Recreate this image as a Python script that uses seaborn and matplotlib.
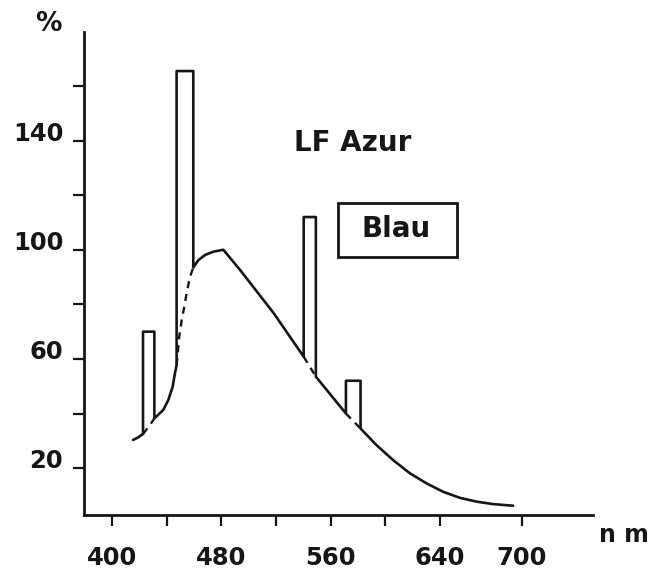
import matplotlib
matplotlib.use("Agg")
import matplotlib.pyplot as plt
from matplotlib.patches import Rectangle
import numpy as np
import seaborn as sns

# continuous spectrum (LF Azur), incl. the part hidden under the Hg lines
cont_nm = [415.4, 419.0, 422.7, 427.8, 431.0, 437.5, 441.2, 444.4, 446.1, 447.3,
           449.2, 451.0, 452.9, 454.6, 457.1, 459.5, 463.2, 468.1, 474.2, 481.5,
           493.9, 518.3, 540.3, 549.2, 571.2, 581.9, 593.6, 605.8, 618.0, 630.2,
           642.4, 654.6, 666.8, 678.9, 693.6]
cont_val = [30.3, 31.2, 32.5, 35.8, 38.2, 41.3, 44.9, 49.8, 54.8, 57.7,
            68.1, 74.2, 79.1, 84.0, 90.1, 93.5, 96.2, 98.1, 99.3, 100.0,
            92.5, 76.8, 60.8, 53.5, 40.0, 34.5, 28.4, 22.9, 18.1, 14.4,
            11.3, 9.1, 7.7, 6.8, 6.2]

# mercury lines drawn as bars
bar_left = [422.7, 447.3, 540.3, 571.2]
bar_right = [431.0, 459.5, 549.2, 581.9]
bar_top = [70.0, 165.5, 112.0, 52.0]

xticks = [400, 440, 480, 520, 560, 600, 640, 700]
xlabels = ["400", "", "480", "", "560", "", "640", "700"]
yticks = [20, 40, 60, 80, 100, 120, 140, 160]
ylabels = ["20", "", "60", "", "100", "", "140", ""]

sns.set_style("white")
plt.rcParams["font.family"] = ["DejaVu Sans"]
plt.rcParams["font.weight"] = "bold"

ink = "#161616"

# outline: continuum with the bars cut in
path_x, path_y = [], []
for x, y in zip(cont_nm, cont_val):
    if any(l < x <= r for l, r in zip(bar_left, bar_right)):
        continue
    path_x.append(x)
    path_y.append(y)
    if x in bar_left:
        i = bar_left.index(x)
        r = bar_right[i]
        path_x += [x, r, r]
        path_y += [bar_top[i], bar_top[i], float(np.interp(r, cont_nm, cont_val))]

fig = plt.figure(figsize=(6.54, 5.73), dpi=100)
ax = fig.add_axes([0.1284, 0.1012, 0.7783, 0.8429])

sns.lineplot(x=path_x, y=path_y, sort=False, estimator=None, color=ink,
             linewidth=1.9, ax=ax)

# dashed continuum under each line
for l, r in zip(bar_left, bar_right):
    seg = [(x, y) for x, y in zip(cont_nm, cont_val) if l <= x <= r]
    sx, sy = zip(*seg)
    ax.plot(sx, sy, color=ink, linewidth=1.7, linestyle=(0, (3, 2.5)))

ax.set_xlim(379.5, 752)
ax.set_ylim(2.8, 179.8)

ax.set_xticks(xticks)
ax.set_xticklabels(xlabels)
ax.set_yticks(yticks)
ax.set_yticklabels(ylabels)
for lab in ax.get_yticklabels():
    lab.set_va("baseline")

ax.tick_params(axis="both", direction="out", length=8, width=1.6, colors=ink,
               labelsize=17.5, bottom=True, left=True)
ax.tick_params(axis="y", pad=7)
ax.tick_params(axis="x", pad=14)
sns.despine(ax=ax)
for s in ("left", "bottom"):
    ax.spines[s].set_linewidth(2.0)
    ax.spines[s].set_color(ink)

ax.text(0.527, 0.770, "LF Azur", transform=ax.transAxes, ha="center",
        va="center", fontsize=20, fontweight="bold", color=ink)
ax.add_patch(Rectangle((0.499, 0.534), 0.234, 0.112, transform=ax.transAxes,
                       fill=False, edgecolor=ink, linewidth=2.0))
ax.text(0.613, 0.592, "Blau", transform=ax.transAxes, ha="center",
        va="center", fontsize=20, fontweight="bold", color=ink)

fig.text(48 / 654, 1 - 24 / 573, "%", ha="center", va="center",
         fontsize=19, fontweight="bold", color=ink)
fig.text(624 / 654, 1 - 535 / 573, "n m", ha="center", va="center",
         fontsize=17, fontweight="bold", color=ink)

fig.savefig("out.png", dpi=100, facecolor="white")
